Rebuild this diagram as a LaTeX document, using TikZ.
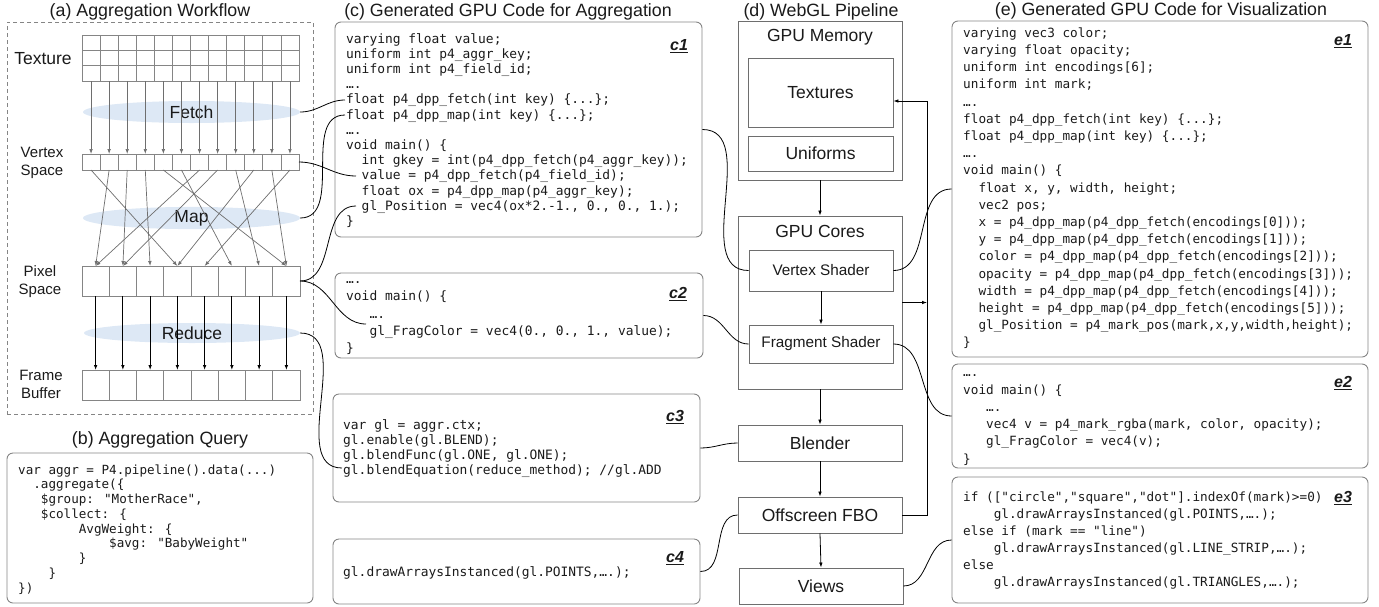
\documentclass[tikz,border=0pt]{standalone}
\usepackage{fontspec}
\setmainfont{Liberation Sans}
\setsansfont{Liberation Sans}
\newfontfamily\codefont{DejaVu Sans Mono}
\usetikzlibrary{arrows.meta,shapes.geometric}
\newcommand\ind[1]{\hspace*{#1\fontcharwd\font`\x}}
\newcommand\ddd{...}
\definecolor{bgray}{HTML}{858585}
\definecolor{dgray}{HTML}{6E6E6E}
\definecolor{ellblue}{HTML}{DDE8F5}
\definecolor{txt}{HTML}{1A1A1A}
\begin{document}
\begin{tikzpicture}[x=1pt,y=-1pt,
 every node/.style={text=txt},
 ttl/.style={font=\fontsize{17.8}{20}\selectfont, inner sep=0pt},
 big/.style={font=\fontsize{17.5}{20}\selectfont, inner sep=0pt},
 sml/.style={font=\fontsize{15}{17.5}\selectfont, inner sep=0pt, align=center},
 shd/.style={font=\fontsize{15.3}{18}\selectfont, inner sep=0pt},
 tcell/.style={draw=bgray, line width=0.8pt, inner sep=0pt, outer sep=0pt, minimum width=18.083pt, minimum height=15.333pt},
 vcell/.style={tcell, minimum height=16pt},
 pcell/.style={draw=bgray, line width=0.8pt, inner sep=0pt, outer sep=0pt, minimum width=27.25pt, minimum height=30pt},
 ell/.style={ellipse, fill=ellblue, inner sep=0pt, font=\fontsize{17.5}{20}\selectfont},
 garr/.style={draw=dgray, line width=0.7pt, -{Latex[length=5pt,width=3.6pt]}},
 karr/.style={draw=black, line width=0.8pt, -{Latex[length=5pt,width=3.6pt]}},
 conn/.style={draw=black, line width=0.8pt},
 cbox/.style={draw=bgray, line width=0.9pt, rounded corners=6pt, inner sep=0pt},
 dbox/.style={draw=dgray, line width=0.9pt, inner sep=0pt},
 bcode/.style={anchor=base west, inner sep=0pt, font=\codefont\fontsize{12.6}{15}\selectfont},
 ccode/.style={anchor=base west, inner sep=0pt, font=\codefont\fontsize{12.9}{15}\selectfont},
 ecode/.style={anchor=base west, inner sep=0pt, font=\codefont\fontsize{12.7}{15}\selectfont},
 tag/.style={inner sep=0pt, font=\fontsize{16}{18}\selectfont\bfseries\itshape}
]
\useasboundingbox (0,0) rectangle (1379,606);

% ---------------- (a) Aggregation Workflow ----------------
\node[ttl] (ttlA) at (150,12) {(a) Aggregation Workflow};
\node[draw=bgray, dash pattern=on 4pt off 3pt, line width=0.8pt, inner sep=0pt,
      minimum width=306pt, minimum height=392pt] (aframe) at (160,218) {};
\node[ell, minimum width=217pt, minimum height=22pt] (fetch) at (191.5,112) {Fetch};
\node[ell, minimum width=217pt, minimum height=20pt] (map) at (191.5,218) {Map};
\node[ell, minimum width=216pt, minimum height=20pt] (reduce) at (192,333) {Reduce};
\foreach \r in {1,2,3}{
  \foreach \c in {1,...,12}{
    \node[tcell] (t\r-\c) at ({82+(\c-0.5)*18.083},{35+(\r-0.5)*15.333}) {};
  }
}
\foreach \c in {1,...,12}{
  \node[vcell] (v\c) at ({82+(\c-0.5)*18.083},162) {};
}
\foreach \c in {1,...,8}{
  \node[pcell] (p\c) at ({82+(\c-0.5)*27.25},281) {};
  \node[pcell] (f\c) at ({82+(\c-0.5)*27.25},385) {};
}
\foreach \c in {1,...,12}{\draw[garr] (t3-\c.south) -- (v\c.north);}
\foreach \src/\dst in {1/4,2/1,3/2,4/3,5/8,6/6,7/1,8/2,9/7,10/4,11/8,12/5}{
  \draw[garr] (v\src.south) -- (p\dst.north);
}
\foreach \c in {1,...,8}{\draw[karr] (p\c.south) -- (f\c.north);}
\node[big] (texL) at (43,59) {Texture};
\node[sml] (vsL) at (42,163) {Vertex\\Space};
\node[sml] (psL) at (40,281.5) {Pixel\\Space};
\node[sml] (fbL) at (41,384.5) {Frame\\Buffer};

% ---------------- (b) Aggregation Query ----------------
\node[ttl] (ttlB) at (160,440) {(b) Aggregation Query};
\node[cbox, minimum width=306pt, minimum height=150pt] (bbox) at (160,528) {};
\foreach \t [count=\i from 0] in {
  {var aggr = P4.pipeline().data(\ddd)},
  {\ind{2}.aggregate(\{},
  {\ind{3}\$group: "MotherRace",},
  {\ind{3}\$collect: \{},
  {\ind{8}AvgWeight: \{},
  {\ind{12}\$avg: "BabyWeight"},
  {\ind{8}\}},
  {\ind{4}\}},
  {\})}}{
  \node[bcode] (bl\i) at (18,{474+14.75*\i}) {\t};
}

% ---------------- (c) Generated GPU Code for Aggregation ----------------
\node[ttl] (ttlC) at (508,12) {(c) Generated GPU Code for Aggregation};
\node[cbox, minimum width=367pt, minimum height=215pt] (c1box) at (518.5,129.5) {};
\node[cbox, minimum width=368pt, minimum height=85pt] (c2box) at (519,315.5) {};
\node[cbox, minimum width=367pt, minimum height=108pt] (c3box) at (516.5,448) {};
\node[cbox, minimum width=367pt, minimum height=65pt] (c4box) at (516.5,571.5) {};
\foreach \t [count=\i from 0] in {
  {varying float value;},
  {uniform int p4\_aggr\_key;},
  {uniform int p4\_field\_id;},
  {….},
  {float p4\_dpp\_fetch(int key) \{\ddd\};},
  {float p4\_dpp\_map(int key) \{\ddd\};},
  {….},
  {void main() \{},
  {\ind{2}int gkey = int(p4\_dpp\_fetch(p4\_aggr\_key));},
  {\ind{2}value = p4\_dpp\_fetch(p4\_field\_id);},
  {\ind{2}float ox = p4\_dpp\_map(p4\_aggr\_key);},
  {\ind{2}gl\_Position = vec4(ox*2.-1., 0., 0., 1.);},
  {\}}}{
  \node[ccode] (c1l\i) at (346,{43+15.2*\i}) {\t};
}
\foreach \t [count=\i from 0] in {
  {….},
  {void main() \{},
  {\ind{3}….},
  {\ind{3}gl\_FragColor = vec4(0., 0., 1., value);},
  {\}}}{
  \node[ccode] (c2l\i) at (346,{283.5+17.3*\i}) {\t};
}
\node[ccode] (c3l0) at (343,429) {var gl = aggr.ctx;};
\node[ccode] (c3l1) at (343,444.3) {gl.enable(gl.BLEND);};
\node[ccode] (c3l2) at (343,459.6) {gl.blendFunc(gl.ONE, gl.ONE);};
\node[ccode] (c3l3) at (343,474.9) {gl.blendEquation(reduce\_method); //gl.ADD};
\node[ccode] (c4l0) at (343,576) {gl.drawArraysInstanced(gl.POINTS,….);};
\node[tag] (c1tag) at (679,46) {\underline{c1}};
\node[tag] (c2tag) at (678,294) {\underline{c2}};
\node[tag] (c3tag) at (675,417) {\underline{c3}};
\node[tag] (c4tag) at (675,558) {\underline{c4}};

% ---------------- (d) WebGL Pipeline ----------------
\node[ttl] (ttlD) at (821,12) {(d) WebGL Pipeline};
\node[dbox, minimum width=164pt, minimum height=159pt] (gpumem) at (820,100.5) {};
\node[big] (gpumemL) at (820,37) {GPU Memory};
\node[dbox, big, minimum width=145pt, minimum height=69pt] (tex) at (820.5,92.5) {Textures};
\node[dbox, big, minimum width=145pt, minimum height=35pt] (uni) at (820.5,153.5) {Uniforms};
\node[dbox, minimum width=164pt, minimum height=173pt] (gpucores) at (820,302.5) {};
\node[big] (gpucoresL) at (820,231) {GPU Cores};
\node[dbox, shd, minimum width=144pt, minimum height=41pt] (vert) at (821,270.5) {Vertex Shader};
\node[dbox, shd, minimum width=144pt, minimum height=38pt] (frag) at (821,344) {Fragment Shader};
\node[dbox, big, minimum width=164pt, minimum height=36pt] (blender) at (820,443) {Blender};
\node[dbox, big, minimum width=164pt, minimum height=36pt] (fbo) at (820,515) {Offscreen FBO};
\node[dbox, big, minimum width=164pt, minimum height=36pt] (views) at (821,586) {Views};
\draw[karr] (gpumem.south) -- (gpucores.north);
\draw[karr] (vert.south) -- (frag.north);
\draw[karr] (gpucores.south) -- (blender.north);
\draw[karr] (blender.south) -- (fbo.north);
\draw[karr] (fbo.south) -- (views.north);
\coordinate (fbR) at (927,101);
\coordinate (coreR) at (927,302.5);
\draw[karr] (fbo.east) -| (fbR) -- (tex.east |- fbR);
\draw[karr] (gpucores.east) -- (coreR);

% ---------------- (e) Generated GPU Code for Visualization ----------------
\node[ttl] (ttlE) at (1161,11) {(e) Generated GPU Code for Visualization};
\node[cbox, minimum width=416pt, minimum height=336pt] (e1box) at (1160,189) {};
\node[cbox, minimum width=416pt, minimum height=104pt] (e2box) at (1160,416) {};
\node[cbox, minimum width=416pt, minimum height=126pt] (e3box) at (1160,540) {};
\foreach \t [count=\i from 0] in {
  {varying vec3 color;},
  {varying float opacity;},
  {uniform int encodings[6];},
  {uniform int mark;},
  {….},
  {float p4\_dpp\_fetch(int key) \{\ddd\};},
  {float p4\_dpp\_map(int key) \{\ddd\};},
  {….},
  {void main() \{},
  {\ind{2}float x, y, width, height;},
  {\ind{2}vec2 pos;},
  {\ind{2}x = p4\_dpp\_map(p4\_dpp\_fetch(encodings[0]));},
  {\ind{2}y = p4\_dpp\_map(p4\_dpp\_fetch(encodings[1]));},
  {\ind{2}color = p4\_dpp\_map(p4\_dpp\_fetch(encodings[2]));},
  {\ind{2}opacity = p4\_dpp\_map(p4\_dpp\_fetch(encodings[3]));},
  {\ind{2}width = p4\_dpp\_map(p4\_dpp\_fetch(encodings[4]));},
  {\ind{2}height = p4\_dpp\_map(p4\_dpp\_fetch(encodings[5]));},
  {\ind{2}gl\_Position = p4\_mark\_pos(mark,x,y,width,height);},
  {\}}}{
  \node[ecode] (e1l\i) at (963,{37.3+17.2*\i}) {\t};
}
\foreach \t [count=\i from 0] in {
  {….},
  {void main() \{},
  {\ind{3}….},
  {\ind{3}vec4 v = p4\_mark\_rgba(mark, color, opacity);},
  {\ind{3}gl\_FragColor = vec4(v);},
  {\}}}{
  \node[ecode] (e2l\i) at (963,{376.7+17.3*\i}) {\t};
}
\foreach \t [count=\i from 0] in {
  {if (["circle","square","dot"].indexOf(mark)>=0)},
  {\ind{4}gl.drawArraysInstanced(gl.POINTS,….);},
  {else if (mark == "line")},
  {\ind{4}gl.drawArraysInstanced(gl.LINE\_STRIP,….);},
  {else},
  {\ind{4}gl.drawArraysInstanced(gl.TRIANGLES,….);}}{
  \node[ecode] (e3l\i) at (963,{501.3+17*\i}) {\t};
}
\node[tag] (e1tag) at (1343,41) {\underline{e1}};
\node[tag] (e2tag) at (1343,383) {\underline{e2}};
\node[tag] (e3tag) at (1343,498) {\underline{e3}};

% ---------------- connectors ----------------
\coordinate (cFetch) at (345,100);
\coordinate (cMap) at (345,115);
\coordinate (cValue) at (356,176);
\coordinate (cPos) at (356,206);
\coordinate (cFrag) at (366,324);
\coordinate (cBlend) at (342,468);
\draw[conn] (fetch.east) to[out=0,in=180] (cFetch);
\draw[conn] (map.east) to[out=0,in=180] (cMap);
\draw[conn] (v12.east) to[out=0,in=180] (cValue);
\draw[conn] (p8.east) to[out=0,in=180] (cPos);
\draw[conn] (p8.east) to[out=0,in=180] (cFrag);
\draw[conn] (reduce.east) to[out=0,in=180] (cBlend);
\draw[conn] (c1box.east) to[out=0,in=180] (vert.west);
\draw[conn] (c2box.east) to[out=0,in=180] (frag.west);
\draw[conn] (c3box.east) to[out=0,in=180] (blender.west);
\draw[conn] (c4box.east) to[out=0,in=180] (fbo.west);
\draw[conn] (vert.east) to[out=0,in=180] (e1box.west);
\draw[conn] (frag.east) to[out=0,in=180] (e2box.west);
\draw[conn] (views.east) to[out=0,in=180] (e3box.west);
\end{tikzpicture}
\end{document}
